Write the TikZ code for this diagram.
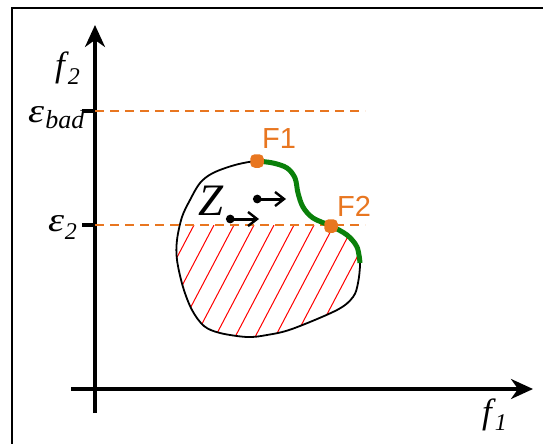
\documentclass[tikz,border=0pt]{standalone}
\usepackage{fontspec}
\usepackage{graphicx}
\setmainfont{Liberation Serif}
\newfontfamily\labsans{Liberation Sans}
\usetikzlibrary{arrows.meta}
\definecolor{orng}{RGB}{232,118,32}
\definecolor{grn}{RGB}{10,128,10}
\newcommand\wideeps{\scalebox{1.2}[1]{ε}}
\def\blobpath{plot[smooth cycle, tension=0.55] coordinates {(257,161) (235,165) (213,173) (200,183) (190,200) (182,217) (177,240) (177,260) (183,287) (192,310) (204,326) (220,333) (247,337) (267,335) (292,329) (337,310) (353,297) (358,283) (360,263) (357,247) (347,235) (331,226) (313,218) (303,207) (298,193) (295,178) (287,168) (273,163)}}
\begin{document}
\begin{tikzpicture}[x=1pt,y=-1pt,
  axis/.style={line width=3.2pt,-{Stealth[length=22pt,width=20pt,inset=7pt]}},
  tickmark/.style={line width=3.2pt},
  guide/.style={orng,line width=2.2pt,dash pattern=on 9pt off 6pt},
  hatchline/.style={red,line width=1pt},
  zarrow/.style={line width=3pt,{Circle[length=8.5pt]}-{Straight Barb[length=9pt,width=14pt,line width=2.4pt]}},
  dot/.style={fill=orng,minimum size=13.5pt,inner sep=0pt,rounded corners=4.5pt,rectangle},
  lbl/.style={anchor=base west,inner sep=0pt}]
\useasboundingbox (0,0) rectangle (543,444);
\draw[line width=2pt] (12,8) rectangle (560,470);
% hatch
\begin{scope}
\clip (0,225) rectangle (543,444);
\clip \blobpath;
\foreach \k in {-1,...,13} \draw[hatchline] ({194+20*\k},225) -- ++(-80,152);
\end{scope}
\draw[line width=1.8pt] \blobpath;
% axes
\coordinate (yb) at (95,413); \coordinate (yt) at (95,25);
\coordinate (xl) at (71,389); \coordinate (xr) at (533,389);
\draw[axis] (yb) -- (yt);
\draw[axis] (xl) -- (xr);
% ticks and guides
\coordinate (tb0) at (82,111); \coordinate (tb1) at (95,111); \coordinate (tb2) at (365,111);
\coordinate (te0) at (82,225); \coordinate (te1) at (95,225); \coordinate (te2) at (365,225);
\draw[guide] (tb1) -- (tb2);
\draw[guide] (te1) -- (te2);
\draw[tickmark] (tb0) -- (tb1);
\draw[tickmark] (te0) -- (te1);
% front
\draw[grn,line width=5pt] plot[smooth, tension=0.55] coordinates {(257,161) (273,163) (287,168) (295,178) (298,193) (303,207) (313,218) (331,226) (347,235) (357,247) (360,263)};
\node[dot] (F1dot) at (257,161) {};
\node[dot] (F2dot) at (331,226) {};
% Z arrows
\coordinate (za1) at (226,219); \coordinate (za2) at (259,219);
\coordinate (zb1) at (253,199); \coordinate (zb2) at (286,199);
\draw[zarrow] (za1) -- (za2);
\draw[zarrow] (zb1) -- (zb2);
% labels
\node[lbl] (f2lab) at (55,77) {\fontsize{35}{35}\selectfont\itshape f\kern3pt\raisebox{-7pt}{\fontsize{24}{24}\selectfont 2}};
\node[lbl] (f1lab) at (482,423) {\fontsize{35}{35}\selectfont\itshape f\kern3pt\raisebox{-7pt}{\fontsize{24}{24}\selectfont 1}};
\node[lbl] (epsbad) at (28,122) {\fontsize{34}{34}\selectfont\itshape \wideeps\kern1pt\raisebox{-6pt}{\fontsize{26}{26}\selectfont bad}};
\node[lbl] (epstwo) at (48,231) {\fontsize{34}{34}\selectfont\itshape \wideeps\kern0.5pt\raisebox{-8pt}{\fontsize{24}{24}\selectfont 2}};
\node[lbl,text=orng,font=\labsans\fontsize{29}{29}\selectfont] (F1lab) at (262,148) {F1};
\node[lbl,text=orng,font=\labsans\fontsize{29}{29}\selectfont] (F2lab) at (337,216) {F2};
\node[lbl] (Zlab) at (198,215) {\fontsize{45}{45}\selectfont\itshape Z};
\end{tikzpicture}
\end{document}
